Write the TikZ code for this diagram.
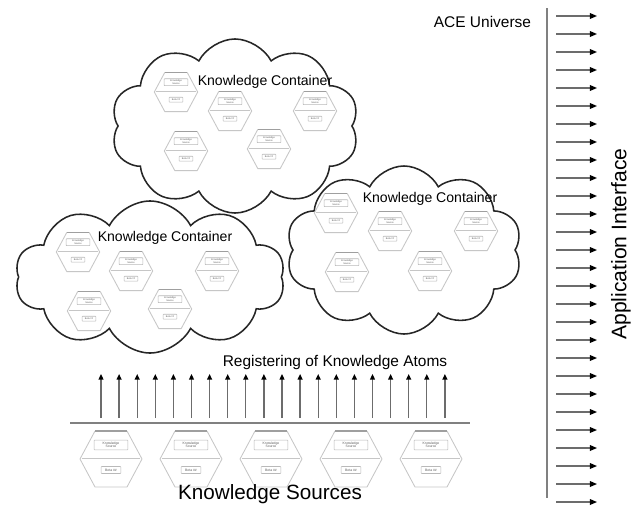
\documentclass[tikz,border=0pt]{standalone}
\usepackage{fontspec}
\setmainfont{Liberation Sans}
\usetikzlibrary{arrows.meta,positioning,shapes.symbols,shapes.geometric}

\begin{document}
\begin{tikzpicture}[x=0.025cm,y=-0.025cm,
		atomline/.style={draw=gray!45, line width=0.6pt},
		atombox/.style={draw=gray!55, line width=0.4pt, rounded corners=0.4pt, inner sep=0pt, align=center, transform shape, text=gray!70!black, font=\fontsize{2.4}{2.5}\selectfont},
		atom/.pic={
			\draw[atomline] (-16,-28) -- (-31,0) -- (-16,28) -- (16,28) -- (31,0) -- (16,-28);
			\draw[gray!75, line width=1pt] (-16,-28) -- (16,-28);
			\draw[atomline] (-29,-1) -- (29,-1);
			\node[atombox, minimum width=24pt, minimum height=7pt] at (0,-14) {Knowledge\\Source};
			\node[atombox, minimum width=14pt, minimum height=5pt] at (0,11) {Beta \#\#};
		},
		kcloud/.style={cloud, cloud puffs=10, cloud puff arc=125, cloud ignores aspect, draw=black!85, line width=1.1pt, fill=white, inner sep=0pt},
		title/.style={font=\fontsize{10}{12}\selectfont},
		rarrow/.style={draw=gray!85!black, line width=0.9pt, -{Triangle[length=5pt,width=4pt,black]}},
		uarrow/.style={draw=gray!85!black, line width=0.9pt, -{Triangle[length=4pt,width=3.5pt,black]}}]
		\useasboundingbox (0,0) rectangle (637,506);

		% Application interface
		\coordinate (ifacetop) at (547,8);
		\coordinate (ifacebot) at (547,498);
		\draw[gray, line width=1.4pt] (ifacetop) -- (ifacebot);
		\foreach \i in {0,...,27}
			\draw[rarrow] (556,{16+18*\i}) -- (597,{16+18*\i});
		\node[font=\fontsize{11}{13}\selectfont, anchor=east] (universe) at (536,22) {ACE Universe};
		\node[font=\fontsize{15}{18}\selectfont, rotate=90] (iface) at (621,244) {Application Interface};

		% Top container
		\node[kcloud, minimum width=6.2cm, minimum height=4.35cm] (cloudtop) at (235,126) {};
		\pic[scale=0.7] at (176,92) {atom};
		\pic[scale=0.7] at (230,111) {atom};
		\pic[scale=0.7] at (315,111) {atom};
		\pic[scale=0.7] at (186,151) {atom};
		\pic[scale=0.7] at (269,149) {atom};
		\node[title] (ctop) at (265,82) {Knowledge Container};

		% Right container
		\node[kcloud, minimum width=5.9cm, minimum height=4.2cm] (cloudright) at (404,250) {};
		\pic[scale=0.7] at (336,213) {atom};
		\pic[scale=0.7] at (390,231) {atom};
		\pic[scale=0.7] at (476,231) {atom};
		\pic[scale=0.7] at (347,272) {atom};
		\pic[scale=0.7] at (430,271) {atom};
		\node[title] (cright) at (430,199) {Knowledge Container};

		% Left container
		\node[kcloud, minimum width=6.75cm, minimum height=3.8cm] (cloudleft) at (150,277) {};
		\pic[scale=0.7] at (78,252) {atom};
		\pic[scale=0.7] at (131,271) {atom};
		\pic[scale=0.7] at (217,271) {atom};
		\pic[scale=0.7] at (89,311) {atom};
		\pic[scale=0.7] at (170,309) {atom};
		\node[title] (cleft) at (165,238) {Knowledge Container};

		% Registering
		\node[font=\fontsize{11}{13}\selectfont] (register) at (335,362) {Registering of Knowledge Atoms};
		\foreach \i in {0,...,19}
			\draw[uarrow] ({101+18.1*\i},418) -- ({101+18.1*\i},374);

		% Knowledge sources
		\coordinate (srcleft) at (70,423);
		\coordinate (srcright) at (470,423);
		\draw[gray, line width=2pt] (srcleft) -- (srcright);
		\foreach \x in {111,191,271,351,431}
			\pic at (\x,459) {atom};
		\node[font=\fontsize{14.7}{17}\selectfont] (sources) at (270,494) {Knowledge Sources};
	\end{tikzpicture}
\end{document}
